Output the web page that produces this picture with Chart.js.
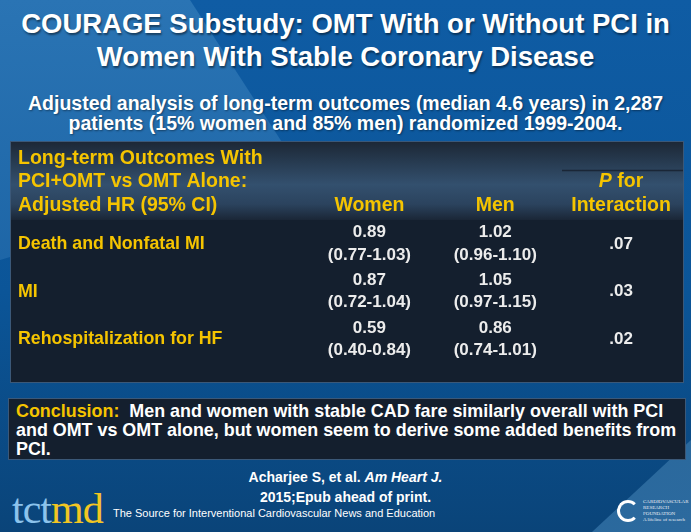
<!DOCTYPE html>
<html>
<head>
<meta charset="utf-8">
<script src="https://cdn.jsdelivr.net/npm/chart.js@4.4.1/dist/chart.umd.min.js"></script>
<style>
  html, body { margin: 0; padding: 0; }
  body {
    width: 691px; height: 532px; overflow: hidden; position: relative;
    font-family: "Liberation Sans", Arial, sans-serif;
    background: linear-gradient(180deg, #0f5ca4 0%, #0b5598 55%, #0a4479 100%);
  }
  .shade-left {
    position: absolute; left: 0; top: 0; width: 691px; height: 532px;
    background: linear-gradient(180deg, #2a74b4 0%, #1b63a4 60%, #14528e 100%);
    clip-path: polygon(0 0, 190px 0, 300px 170px, 0 260px);
  }
  .shade-right {
    position: absolute; left: 0; top: 0; width: 691px; height: 532px;
    background: linear-gradient(135deg, #1d5e98 0%, #2c6a9e 100%);
    clip-path: polygon(691px 440px, 691px 532px, 592px 532px);
  }
  .title {
    position: absolute; left: 0; top: 7px; width: 691px; text-align: center;
    color: #fff; font-weight: bold; font-size: 27.5px; line-height: 33px;
    text-shadow: 1px 2px 2px rgba(0,0,0,0.45);
  }
  .subtitle {
    position: absolute; left: 0; top: 93px; width: 691px; text-align: center;
    color: #fff; font-weight: bold; font-size: 19.5px; line-height: 20px;
    text-shadow: 1px 1px 2px rgba(0,0,0,0.4);
  }
  #tableWrap { position: absolute; left: 10px; top: 141px; width: 674px; height: 242px; }
  .conclusion {
    position: absolute; left: 8px; top: 398px; width: 662px; height: 56px;
    padding: 3px 7px 1px 7px;
    background: #141f2e; border: 1px solid #3b5878;
    color: #fff; font-weight: bold; font-size: 17.9px; line-height: 19px;
    white-space: nowrap;
  }
  .conclusion span { color: #f5c400; }
  .cite {
    position: absolute; left: 0; top: 467px; width: 691px; text-align: center;
    color: #fff; font-weight: bold; font-size: 14px; line-height: 20px;
  }
  .logo {
    position: absolute; left: 12px; top: 488px;
    font-family: "Liberation Serif", "Times New Roman", serif; font-size: 42px; line-height: 42px;
    letter-spacing: -1px;
  }
  .logo .a { color: #8cc3ec; }
  .logo .b { color: #f2c623; }
  .source {
    position: absolute; left: 113px; top: 507px; color: #fff; font-size: 11px;
  }
  .crf {
    position: absolute; left: 617px; top: 500px; width: 16px; height: 16px;
    border: 3px solid #fff; border-radius: 50%; border-right-color: transparent;
  }
  .crftext {
    position: absolute; left: 643px; top: 499px; color: #e8eef5;
    font-family: "Liberation Serif", serif; font-size: 5px; line-height: 6px;
  }
</style>
</head>
<body>
<div class="shade-left"></div>
<div class="shade-right"></div>
<div class="title">COURAGE Substudy: OMT With or Without PCI in<br>Women With Stable Coronary Disease</div>
<div class="subtitle">Adjusted analysis of long-term outcomes (median 4.6 years) in 2,287<br>patients (15% women and 85% men) randomized 1999-2004.</div>
<div id="tableWrap"><canvas id="tableChart"></canvas></div>
<div class="conclusion"><span>Conclusion:</span>&nbsp; Men and women with stable CAD fare similarly overall with PCI<br>and OMT vs OMT alone, but women seem to derive some added benefits from<br>PCI.</div>
<div class="cite">Acharjee S, et al. <i>Am Heart J.</i><br>2015;Epub ahead of print.</div>
<div class="logo"><span class="a">tct</span><span class="b">md</span></div>
<div class="source">The Source for Interventional Cardiovascular News and Education</div>
<div class="crf"></div>
<div class="crftext">CARDIOVASCULAR<br>RESEARCH<br>FOUNDATION<br>A lifeline of research</div>
<script>
const outcomes = ["Death and Nonfatal MI", "MI", "Rehospitalization for HF"];
const columns = ["Women", "Men", "P for Interaction"];
const headerLines = ["Long-term Outcomes With", "PCI+OMT vs OMT Alone:", "Adjusted HR (95% CI)"];

const womenHR = [0.89, 0.87, 0.59];
const womenLow = [0.77, 0.72, 0.40];
const womenHigh = [1.03, 1.04, 0.84];
const menHR = [1.02, 1.05, 0.86];
const menLow = [0.96, 0.97, 0.74];
const menHigh = [1.10, 1.15, 1.01];
const pInteraction = [0.07, 0.03, 0.02];

const YELLOW = "#f5c400";
const CELL = "#ececec";
const HEADER_H = 79;
const FONT = "'Liberation Sans', Arial, sans-serif";

function fmtP(p) {
    return p.toFixed(2).replace(/^0/, "");
}

// background of the table: header band plus dark body
const tableBackground = {
    id: "tableBackground",
    beforeDraw(chart) {
        const ctx = chart.ctx;
        const w = chart.width, h = chart.height;
        ctx.save();
        ctx.fillStyle = "#141f2e";
        ctx.fillRect(0, 0, w, h);
        const g = ctx.createLinearGradient(0, 0, 0, HEADER_H);
        g.addColorStop(0, "#1c2735");
        g.addColorStop(0.55, "#33506e");
        g.addColorStop(0.8, "#2b435e");
        g.addColorStop(1, "#1a2636");
        ctx.fillStyle = g;
        ctx.fillRect(0, 0, w, HEADER_H);
        ctx.strokeStyle = "#1a2636";
        ctx.lineWidth = 1.5;
        ctx.beginPath();
        ctx.moveTo(552, 29.5);
        ctx.lineTo(w, 29.5);
        ctx.stroke();
        ctx.strokeStyle = "#3b5878";
        ctx.lineWidth = 1;
        ctx.strokeRect(0.5, 0.5, w - 1, h - 1);
        ctx.restore();
    },
};

// header text and cell values placed with the chart's scales
const tableText = {
    id: "tableText",
    afterDraw(chart) {
        const ctx = chart.ctx;
        const x = chart.scales.x;
        const y = chart.scales.y;
        const hdr = "bold 19.5px " + FONT;
        const hdrItalic = "italic bold 19.5px " + FONT;
        ctx.save();
        ctx.textBaseline = "middle";
        ctx.font = hdr;
        ctx.fillStyle = YELLOW;
        ctx.textAlign = "left";
        headerLines.forEach((t, i) => ctx.fillText(t, 8, 17.5 + i * 23.5));

        ctx.textAlign = "center";
        ctx.fillText(columns[0], x.getPixelForValue(0), 64.5);
        ctx.fillText(columns[1], x.getPixelForValue(1), 64.5);
        const px = x.getPixelForValue(2);
        ctx.fillText("Interaction", px, 64.5);
        // "P for" with italic P
        ctx.font = hdrItalic;
        const pw = ctx.measureText("P").width;
        ctx.font = hdr;
        const fw = ctx.measureText(" for").width;
        const start = px - (pw + fw) / 2;
        ctx.textAlign = "left";
        ctx.font = hdrItalic;
        ctx.fillText("P", start, 41);
        ctx.font = hdr;
        ctx.fillText(" for", start + pw, 41);

        ctx.textAlign = "center";
        ctx.fillStyle = CELL;
        ctx.font = "bold 17px " + FONT;
        outcomes.forEach((o, i) => {
            const cy = y.getPixelForValue(i);
            ctx.fillText(womenHR[i].toFixed(2), x.getPixelForValue(0), cy - 11.5);
            ctx.fillText("(" + womenLow[i].toFixed(2) + "-" + womenHigh[i].toFixed(2) + ")", x.getPixelForValue(0), cy + 11);
            ctx.fillText(menHR[i].toFixed(2), x.getPixelForValue(1), cy - 11.5);
            ctx.fillText("(" + menLow[i].toFixed(2) + "-" + menHigh[i].toFixed(2) + ")", x.getPixelForValue(1), cy + 11);
            ctx.fillText(fmtP(pInteraction[i]), x.getPixelForValue(2), cy);
        });
        ctx.restore();
    },
};

const cells = [];
outcomes.forEach((o) => columns.forEach((c) => cells.push({ x: c, y: o })));

new Chart(document.getElementById("tableChart"), {
    type: "scatter",
    data: {
        datasets: [{ data: cells, pointRadius: 0, pointHoverRadius: 0 }],
    },
    options: {
        responsive: true,
        maintainAspectRatio: false,
        animation: false,
        events: [],
        layout: { padding: { top: HEADER_H, bottom: 11.5, left: 8, right: 0 } },
        plugins: { legend: { display: false }, tooltip: { enabled: false } },
        scales: {
            x: {
                type: "category",
                labels: columns,
                offset: true,
                grid: { display: false },
                border: { display: false },
                ticks: { display: false },
            },
            y: {
                type: "category",
                labels: outcomes,
                offset: true,
                grid: { display: false },
                border: { display: false },
                afterFit(scale) { scale.width = 288.5; },
                ticks: {
                    crossAlign: "far",
                    color: YELLOW,
                    font: { family: FONT, size: 17.8, weight: "bold" },
                },
            },
        },
    },
    plugins: [tableBackground, tableText],
});
</script>
</body>
</html>
